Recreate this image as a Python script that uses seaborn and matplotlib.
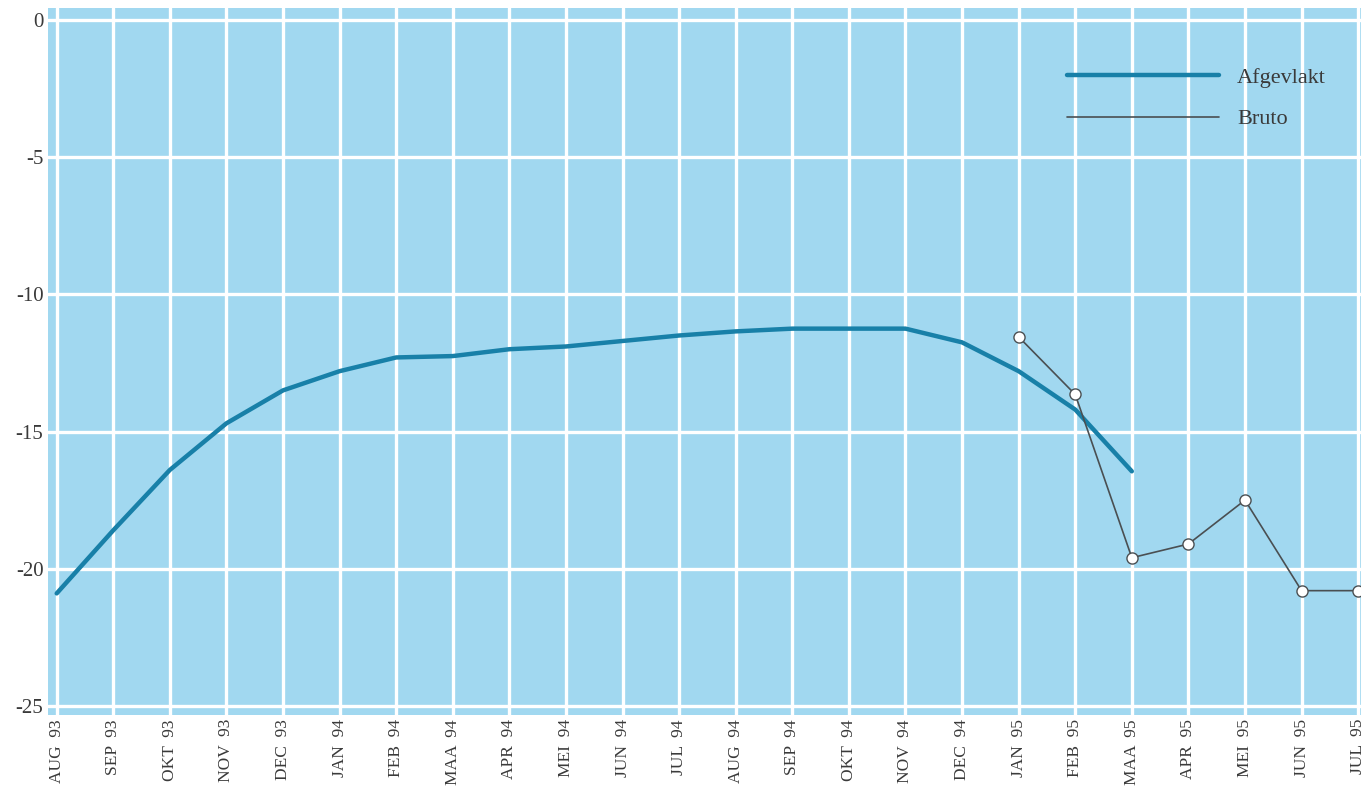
import numpy as np
import pandas as pd
import matplotlib
matplotlib.use("Agg")
import matplotlib.pyplot as plt
import seaborn as sns

# ------------------------------------------------------------
# data
# ------------------------------------------------------------
months = ['AUG 93', 'SEP 93', 'OKT 93', 'NOV 93', 'DEC 93', 'JAN 94',
          'FEB 94', 'MAA 94', 'APR 94', 'MEI 94', 'JUN 94', 'JUL 94',
          'AUG 94', 'SEP 94', 'OKT 94', 'NOV 94', 'DEC 94', 'JAN 95',
          'FEB 95', 'MAA 95', 'APR 95', 'MEI 95', 'JUN 95', 'JUL 95']

afgevlakt = [-20.9, -18.6, -16.4, -14.7, -13.5, -12.8, -12.3, -12.25,
             -12.0, -11.9, -11.7, -11.5, -11.35, -11.25, -11.25, -11.25,
             -11.75, -12.8, -14.2, -16.45]

bruto_months = ['JAN 95', 'FEB 95', 'MAA 95', 'APR 95', 'MEI 95', 'JUN 95', 'JUL 95']
bruto = [-11.55, -13.65, -19.6, -19.1, -17.5, -20.8, -20.8]

y_ticks = [0, -5, -10, -15, -20, -25]

# ------------------------------------------------------------
# frames
# ------------------------------------------------------------
pos = {m: i for i, m in enumerate(months)}
df_afg = pd.DataFrame({'x': [pos[m] for m in months[:len(afgevlakt)]],
                       'y': afgevlakt})
df_bru = pd.DataFrame({'x': [pos[m] for m in bruto_months], 'y': bruto})

# ------------------------------------------------------------
# plot
# ------------------------------------------------------------
sns.set_theme(style='white')
plt.rcParams['font.family'] = ['Liberation Serif', 'DejaVu Serif']

fig = plt.figure(figsize=(13.61, 7.90), dpi=100)
ax = fig.add_axes([0.035, 0.095, 0.965, 0.895])
ax.set_facecolor('#a1d8f0')

sns.lineplot(data=df_afg, x='x', y='y', ax=ax, color='#1880a8',
             linewidth=3.2, label='Afgevlakt', zorder=3)
sns.lineplot(data=df_bru, x='x', y='y', ax=ax, color='#4a4f52',
             linewidth=1.2, marker='o', markersize=8,
             markerfacecolor='white', markeredgecolor='#4a4f52',
             markeredgewidth=1.0, label='Bruto', zorder=4)

ax.set_xlim(-0.16, 23.05)
ax.set_ylim(-25.33, 0.44)
ax.set_xticks(range(len(months)))
ax.set_xticklabels([m.replace(' ', '  ') for m in months], rotation=90,
                   fontsize=12.5, color='#3a3a3a')
ax.set_yticks(y_ticks)
ax.set_yticklabels([str(v) for v in y_ticks], fontsize=15, color='#3a3a3a')
ax.tick_params(axis='y', length=0, pad=3)
ax.tick_params(axis='x', length=0, pad=3)

ax.grid(True, color='white', linewidth=2.4)
ax.set_axisbelow(True)
for s in ax.spines.values():
    s.set_visible(False)
ax.set_xlabel('')
ax.set_ylabel('')

leg = ax.legend(loc='upper left', bbox_to_anchor=(0.761, 0.944),
                frameon=False, handlelength=6.85, handletextpad=0.8,
                labelspacing=0.94, fontsize=16)
for t in leg.get_texts():
    t.set_color('#3a3a3a')
# legend handles shown as plain lines
for h in leg.legend_handles:
    h.set_marker('')

fig.savefig('out.png', dpi=100)
plt.close(fig)
